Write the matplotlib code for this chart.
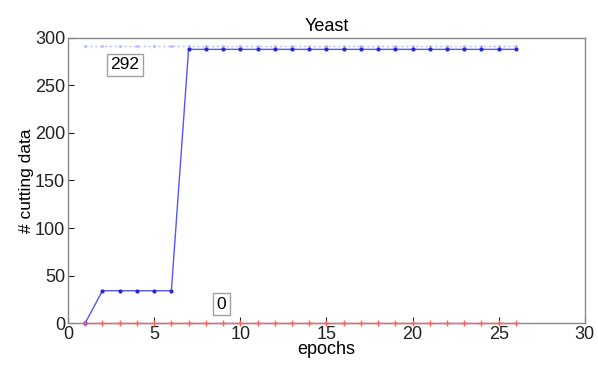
import matplotlib
matplotlib.use("Agg")
import matplotlib.pyplot as plt

plt.rcParams['font.family'] = ['Liberation Sans', 'DejaVu Sans']

epochs = list(range(1, 27))
cutting_blue = [0] + [34] * 5 + [288] * 20
cutting_red = [0] * 26
upper_bound = [292] * 26
label_upper = "292"
label_zero = "0"

fig = plt.figure(figsize=(5.98, 3.65), dpi=100)
ax = fig.add_axes([0.1137, 0.115, 0.8643, 0.781])

ax.plot(epochs, upper_bound, color='#b8c0ff', linestyle=(0, (1.5, 2)), linewidth=1.0,
        marker='.', markersize=2.5, clip_on=False)
ax.plot(epochs, cutting_blue, color='#5555ff', linewidth=1.0, marker='.', markersize=4,
        markerfacecolor='#2828c8', markeredgecolor='#2828c8', clip_on=False, zorder=3)
ax.plot(epochs, cutting_red, color='#ff6060', linewidth=1.0, marker='+', markersize=4,
        clip_on=False, zorder=3)

box = dict(boxstyle='square,pad=0.2', facecolor='white', edgecolor='#a0a0a0', linewidth=1.0)
ax.text(3.3, 272, label_upper, fontsize=12.5, ha='center', va='center', bbox=box)
ax.text(8.9, 20, label_zero, fontsize=12.5, ha='center', va='center', bbox=box)

ax.set_xlim(0, 30)
ax.set_ylim(0, 300)
ax.set_xticks(range(0, 31, 5))
ax.set_yticks(range(0, 301, 50))
ax.tick_params(direction='in', length=4, labelsize=13, colors='#222222', pad=2)
for s in ax.spines.values():
    s.set_color('#888888')
    s.set_linewidth(1.0)
ax.set_title("Yeast", fontsize=13, pad=5)
ax.set_xlabel("epochs", fontsize=13, labelpad=-1)
ax.set_ylabel("# cutting data", fontsize=12.5, labelpad=1)

fig.savefig("out.png", dpi=100)
